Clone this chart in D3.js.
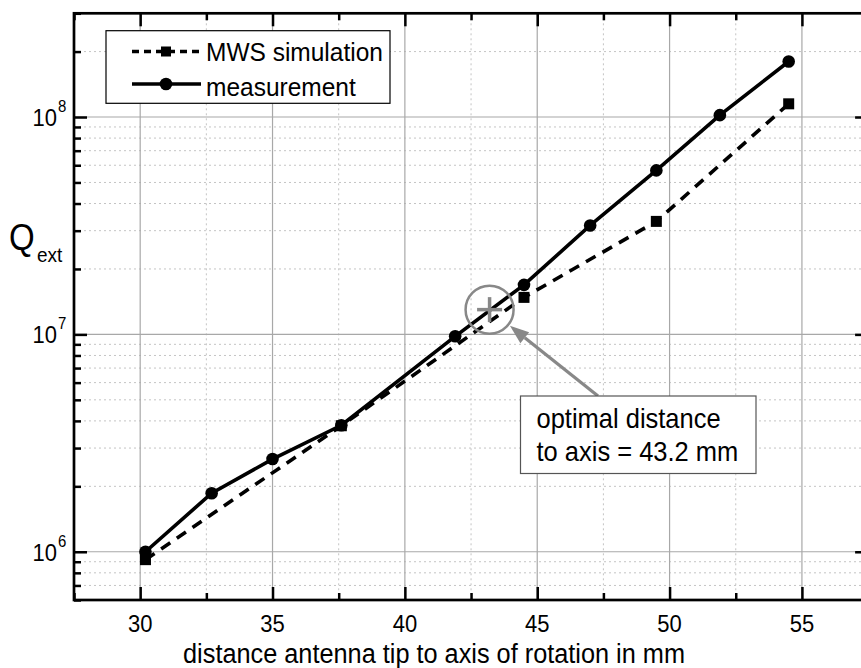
<!DOCTYPE html>
<html>
<head>
<meta charset="utf-8">
<script src="https://cdn.jsdelivr.net/npm/d3@7"></script>
<style>
  body { margin: 0; background: #fff; }
  svg text { font-family: "Liberation Sans", Arial, sans-serif; fill: #000; }
</style>
</head>
<body>
<div id="chart"></div>
<script>
// data
var measDist = [30.2, 32.7, 35.0, 37.6, 41.9, 44.5, 47.0, 49.5, 51.9, 54.5];
var measQ    = [1.0e6, 1.86e6, 2.67e6, 3.82e6, 9.8e6, 1.69e7, 3.17e7, 5.68e7, 1.02e8, 1.80e8];
var simDist  = [30.2, 37.6, 44.5, 49.5, 54.5];
var simQ     = [9.2e5, 3.8e6, 1.48e7, 3.31e7, 1.15e8];
var optDist  = 43.2;
var optQ     = 1.3e7;
var xMajor   = [30, 35, 40, 45, 50, 55];
var yMajor   = [1e6, 1e7, 1e8];
var yExp     = ["6", "7", "8"];
var legendNames = ["MWS simulation", "measurement"];

var W = 861, H = 668;
var x = d3.scaleLinear().domain([27.5, 57.5]).range([74, 868.1]);
var y = d3.scaleLog().domain([6e5, 3e8]).range([600, 13.3]);

var svg = d3.select("#chart").append("svg")
    .attr("width", W)
    .attr("height", H);

var x0 = x.range()[0], x1 = x.range()[1];
var yb = y.range()[0], yt = y.range()[1];

// text placed at (tx, ty), a little taller than wide like the original
function label(parent, tx, ty, size, str, anchor, sy) {
  return parent.append("text")
      .attr("transform", "translate(" + tx + "," + ty + ") scale(1," + (sy || 1.1) + ")")
      .attr("text-anchor", anchor || "start")
      .attr("font-size", size)
      .text(str);
}

// minor values
var xMinor = d3.range(27.5, 58, 2.5).filter(function(v){ return xMajor.indexOf(v) < 0; });
var yMinor = [];
[5, 6, 7, 8].forEach(function(e){
  for (var k = 2; k <= 9; k++) {
    var v = k * Math.pow(10, e);
    if (v >= 6e5 && v <= 3e8) yMinor.push(v);
  }
});

// grid
var grid = svg.append("g");
grid.selectAll(".vminor").data(xMinor).enter().append("line")
    .attr("x1", function(d){ return x(d); }).attr("x2", function(d){ return x(d); })
    .attr("y1", yt).attr("y2", yb)
    .attr("stroke", "#c4c4c4").attr("stroke-width", 1).attr("stroke-dasharray", "2,3");
grid.selectAll(".hminor").data(yMinor).enter().append("line")
    .attr("x1", x0).attr("x2", x1)
    .attr("y1", function(d){ return y(d); }).attr("y2", function(d){ return y(d); })
    .attr("stroke", "#c4c4c4").attr("stroke-width", 1).attr("stroke-dasharray", "2,3");
grid.selectAll(".vmajor").data(xMajor).enter().append("line")
    .attr("x1", function(d){ return x(d); }).attr("x2", function(d){ return x(d); })
    .attr("y1", yt).attr("y2", yb)
    .attr("stroke", "#a8a8a8").attr("stroke-width", 1.2);
grid.selectAll(".hmajor").data(yMajor).enter().append("line")
    .attr("x1", x0).attr("x2", x1)
    .attr("y1", function(d){ return y(d); }).attr("y2", function(d){ return y(d); })
    .attr("stroke", "#a8a8a8").attr("stroke-width", 1.2);

// axes (ticks inward)
function styleAxis(g) {
  g.select(".domain").remove();
  g.selectAll(".tick line").attr("stroke", "#000").attr("stroke-width", 2.5);
}
function ticks(axis, vals, size, tx, ty) {
  svg.append("g").attr("transform", "translate(" + tx + "," + ty + ")")
      .call(axis.tickValues(vals).tickSize(-size).tickFormat(""))
      .call(styleAxis);
}
ticks(d3.axisBottom(x), xMajor, 13, 0, yb);
ticks(d3.axisBottom(x), xMinor, 7, 0, yb);
ticks(d3.axisTop(x), xMajor, 13, 0, yt);
ticks(d3.axisTop(x), xMinor, 7, 0, yt);
ticks(d3.axisLeft(y), yMajor, 13, x0, 0);
ticks(d3.axisLeft(y), yMinor, 7, x0, 0);
ticks(d3.axisRight(y), yMajor, 13, x1, 0);
ticks(d3.axisRight(y), yMinor, 7, x1, 0);

// frame
svg.append("rect")
    .attr("x", x0).attr("y", yt)
    .attr("width", x1 - x0).attr("height", yb - yt)
    .attr("fill", "none").attr("stroke", "#000").attr("stroke-width", 2.7);

// x tick labels
var xl = svg.append("g");
xMajor.forEach(function(d){
  label(xl, x(d), 632, 22, d, "middle", 1.06);
});

// y tick labels 10^n
var ylab = svg.append("g");
yMajor.forEach(function(v, i){
  label(ylab, 57, y(v) + 9, 22, "10", "end");
  label(ylab, 58, y(v) - 5, 15, yExp[i]);
});

// axis titles
label(svg, 434, 663, 25.3, "distance antenna tip to axis of rotation in mm", "middle", 1.06);
label(svg, 9, 250, 33, "Q");
label(svg, 37, 262, 19, "ext");

// series lines
var line = d3.line()
    .x(function(d){ return x(d[0]); })
    .y(function(d){ return y(d[1]); });
var simData = simDist.map(function(d, i){ return [d, simQ[i]]; });
var measData = measDist.map(function(d, i){ return [d, measQ[i]]; });

svg.append("path")
    .datum(simData)
    .attr("d", line)
    .attr("fill", "none").attr("stroke", "#000")
    .attr("stroke-width", 3.6).attr("stroke-dasharray", "11,8");
svg.append("path")
    .datum(measData)
    .attr("d", line)
    .attr("fill", "none").attr("stroke", "#000")
    .attr("stroke-width", 3.6);

svg.selectAll(".sq").data(simData).enter().append("rect")
    .attr("x", function(d){ return x(d[0]) - 5.5; })
    .attr("y", function(d){ return y(d[1]) - 5.5; })
    .attr("width", 11).attr("height", 11)
    .attr("fill", "#000");
svg.selectAll(".ci").data(measData).enter().append("circle")
    .attr("cx", function(d){ return x(d[0]); })
    .attr("cy", function(d){ return y(d[1]); })
    .attr("r", 6.3)
    .attr("fill", "#000");

// optimum marker
var ox = x(optDist), oy = y(optQ);
svg.append("circle")
    .attr("cx", ox).attr("cy", oy).attr("r", 24)
    .attr("fill", "none").attr("stroke", "#888").attr("stroke-width", 2.5);
svg.append("line")
    .attr("x1", ox - 12.5).attr("x2", ox + 12.5).attr("y1", oy).attr("y2", oy)
    .attr("stroke", "#888").attr("stroke-width", 3.5);
svg.append("line")
    .attr("x1", ox).attr("x2", ox).attr("y1", oy - 12.5).attr("y2", oy + 12.5)
    .attr("stroke", "#888").attr("stroke-width", 3.5);

// arrow from box to circle
var ax0 = 598, ay0 = 396;
var ang = Math.atan2(ay0 - oy, ax0 - ox);
var tipX = ox + 26 * Math.cos(ang), tipY = oy + 26 * Math.sin(ang);
var headLen = 19, headW = 7;
var bx = tipX + headLen * Math.cos(ang), by = tipY + headLen * Math.sin(ang);
svg.append("line")
    .attr("x1", ax0).attr("y1", ay0).attr("x2", bx).attr("y2", by)
    .attr("stroke", "#888").attr("stroke-width", 3.2);
svg.append("path")
    .attr("d", "M" + tipX + "," + tipY +
               "L" + (bx - headW * Math.sin(ang)) + "," + (by + headW * Math.cos(ang)) +
               "L" + (bx + headW * Math.sin(ang)) + "," + (by - headW * Math.cos(ang)) + "Z")
    .attr("fill", "#888");

// annotation box
svg.append("rect")
    .attr("x", 520.5).attr("y", 396).attr("width", 235.5).attr("height", 77.5)
    .attr("fill", "#fff").attr("stroke", "#555").attr("stroke-width", 1.2);
label(svg, 536.5, 428, 25.5, "optimal distance", "start", 1.08);
label(svg, 536.5, 461, 25.5, "to axis = 43.2 mm", "start", 1.08);

// legend
var lg = svg.append("g");
lg.append("rect")
    .attr("x", 106).attr("y", 30.7).attr("width", 284).attr("height", 72.6)
    .attr("fill", "#fff").attr("stroke", "#000").attr("stroke-width", 1.2);
lg.append("line")
    .attr("x1", 132).attr("x2", 201).attr("y1", 51.5).attr("y2", 51.5)
    .attr("stroke", "#000").attr("stroke-width", 3.6).attr("stroke-dasharray", "7,5");
lg.append("rect")
    .attr("x", 161).attr("y", 46.5).attr("width", 10).attr("height", 10).attr("fill", "#000");
lg.append("line")
    .attr("x1", 132).attr("x2", 201).attr("y1", 84).attr("y2", 84)
    .attr("stroke", "#000").attr("stroke-width", 3.6);
lg.append("circle")
    .attr("cx", 166).attr("cy", 84).attr("r", 6.3).attr("fill", "#000");
legendNames.forEach(function(d, i){
  label(lg, 206, 61 + i * 34.5, 24.5, d, "start", 1.08);
});
</script>
</body>
</html>
